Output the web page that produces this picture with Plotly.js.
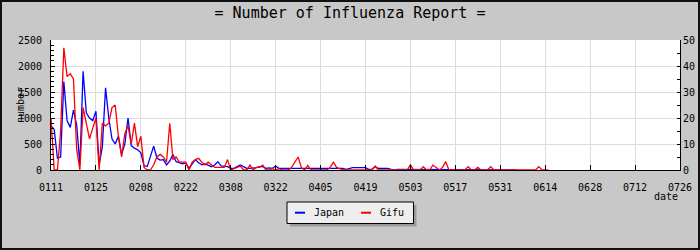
<!DOCTYPE html>
<html><head><meta charset="utf-8">
<script src="https://cdn.plot.ly/plotly-3.0.1.min.js"></script>
<style>
html,body{margin:0;padding:0;background:#c8c8c8}
#wrap{position:relative;width:700px;height:250px}
#chart{width:700px;height:250px}
#frame{position:absolute;left:0;top:0;width:700px;height:250px;box-sizing:border-box;border:2px solid #111;pointer-events:none}
</style>
</head><body><div id="wrap"><div id="chart"></div><div id="frame"></div></div>
<script>
const startDate = '2010-01-11';
const endDate = '2010-07-26';
const titleText = '= Number of Influenza Report =';
const seriesNames = ['Japan', 'Gifu'];
const yTitle = 'number';
const xTitle = 'date';

// daily reports, Japan (left axis)
const japan = [850,780,230,250,1700,950,820,1150,870,100,
 1900,1100,1000,950,1130,100,450,1580,1000,600,
 500,650,300,500,1000,470,420,390,330,80,
 70,250,460,230,190,200,100,170,300,160,
 140,120,135,30,120,200,140,100,115,96,
 64,96,160,80,77,64,32,32,64,96,
 64,32,32,32,45,64,64,32,40,32,
 77,32,32,32,32,32,32,32,20,20,
 20,20,20,20,20,20,20,20,20,20,
 32,32,13,32,45,45,45,45,45,13,
 13,64,32,32,32,32,13,0,13,13,
 10,10,0,0,0,0,0,13,13,13,
 13,13,13,13,0,0,0,0,10,10,
 10,0,13,13,0,0,0,0,0,0,
 10,0,13,13,13,0];

// daily reports, Gifu (right axis)
const gifu = [20,0,0,15,47,36,37,35,8,0,
 24,18,12,16,20,0,18,17,18,24,
 25,13,5,14,17,10,18,9,13,1,
 0,0,2,5,6,5,3,18,4,5,
 3,3,3,0,3,4,4.5,3,2,3,
 2,1,1,1,1,4,0,0.5,1,1.5,
 0,0,1.9,0,1,1,1.9,0,0,0.5,
 0,0.5,0,0,0,1,3,5,1,0,
 1.8,0,0,0,0,0,0,1,3,1,
 0.5,0,0,0,0,0,0,0,0,0,
 0,1.5,0,0,0,0,0,0,0,0,
 0,0,2,0,0,0,1.3,0,0,1.9,
 1,0,1,3.2,0,0,0,0,0,0,
 1.3,0,0,1,0,0,0,1.3,0,0,
 0,0,0,0,0,0,0,0,0,0,
 0,0,1.3,0,0,0];

function dayDates(n){
  const out=[]; const p=startDate.split('-').map(Number);
  for(let i=0;i<n;i++){ out.push(new Date(Date.UTC(p[0],p[1]-1,p[2]+i)).toISOString().slice(0,10)); }
  return out;
}

const FONT = '"DejaVu Sans Mono", "Liberation Mono", monospace';
const L=51, R=20, T=40, B=80, W=700, H=250;
const PW=W-L-R, PH=H-T-B;
const px=(x)=>(x-L)/PW, py=(y)=>(H-B-y)/PH;

const traces = [
  {x: dayDates(japan.length), y: japan, name: seriesNames[0], type:'scatter', mode:'lines',
   line:{color:'#0000ff', width:1.3}, yaxis:'y'},
  {x: dayDates(gifu.length), y: gifu, name: seriesNames[1], type:'scatter', mode:'lines',
   line:{color:'#ff0000', width:1.3}, yaxis:'y2'}
];

const layout = {
  width: W, height: H,
  margin:{l:L, r:R, t:T, b:B, pad:0},
  paper_bgcolor:'#c8c8c8', plot_bgcolor:'#ffffff',
  font:{family:FONT, size:10, color:'#000'},
  showlegend:false,
  title:{text:titleText, x:0.5, xanchor:'center', y:1-13/H, yanchor:'middle', font:{family:FONT, size:15, color:'#000'}},
  xaxis:{type:'date', range:[startDate, endDate], tick0:startDate, dtick:14*86400000, tickformat:'%m%d',
    ticks:'inside', ticklen:5, tickcolor:'#000', showgrid:true, gridcolor:'#dcdcdc', gridwidth:1,
    showline:true, linecolor:'#000', linewidth:1, zeroline:false, ticklabelstandoff:8, fixedrange:true},
  yaxis:{range:[0,2500], dtick:500, tick0:0, ticks:'inside', ticklen:4, tickcolor:'#000',
    minor:{dtick:100, ticks:'inside', ticklen:2.5, tickcolor:'#000', showgrid:false},
    showgrid:true, gridcolor:'#dcdcdc', showline:true, linecolor:'#000', linewidth:1, zeroline:false,
    ticklabelstandoff:6, fixedrange:true},
  yaxis2:{range:[0,50], dtick:10, tick0:0, overlaying:'y', side:'right', ticks:'inside', ticklen:3, tickcolor:'#000',
    minor:{dtick:5, ticks:'inside', ticklen:3, tickcolor:'#000', showgrid:false},
    showgrid:false, showline:true, linecolor:'#000', linewidth:1, zeroline:false, fixedrange:true},
  shapes:[
    {type:'rect', xref:'paper', yref:'paper', x0:px(290), x1:px(416.5), y0:py(226.5), y1:py(205), fillcolor:'#9a9a9a', line:{width:0}, layer:'above'},
    {type:'rect', xref:'paper', yref:'paper', x0:px(287), x1:px(413.5), y0:py(223.5), y1:py(202), fillcolor:'#eeeeee', line:{color:'#000', width:1}, layer:'above'},
    {type:'line', xref:'paper', yref:'paper', x0:px(295), x1:px(305), y0:py(212.7), y1:py(212.7), line:{color:'#0000ff', width:2}, layer:'above'},
    {type:'line', xref:'paper', yref:'paper', x0:px(361), x1:px(371), y0:py(212.7), y1:py(212.7), line:{color:'#ff0000', width:2}, layer:'above'}
  ],
  annotations:[
    {text:yTitle, xref:'paper', yref:'paper', x:px(20), y:0.5, xanchor:'center', yanchor:'middle', textangle:-90, showarrow:false, font:{family:FONT, size:10, color:'#000'}},
    {text:xTitle, xref:'paper', yref:'paper', x:px(680), y:py(196), xanchor:'right', yanchor:'middle', showarrow:false, font:{family:FONT, size:10, color:'#000'}},
    {text:seriesNames[0], xref:'paper', yref:'paper', x:px(312), y:py(212.5), xanchor:'left', yanchor:'middle', showarrow:false, font:{family:FONT, size:10, color:'#000'}},
    {text:seriesNames[1], xref:'paper', yref:'paper', x:px(378), y:py(212.5), xanchor:'left', yanchor:'middle', showarrow:false, font:{family:FONT, size:10, color:'#000'}}
  ]
};

Plotly.newPlot('chart', traces, layout, {staticPlot:true, displayModeBar:false});
</script>
</body></html>
